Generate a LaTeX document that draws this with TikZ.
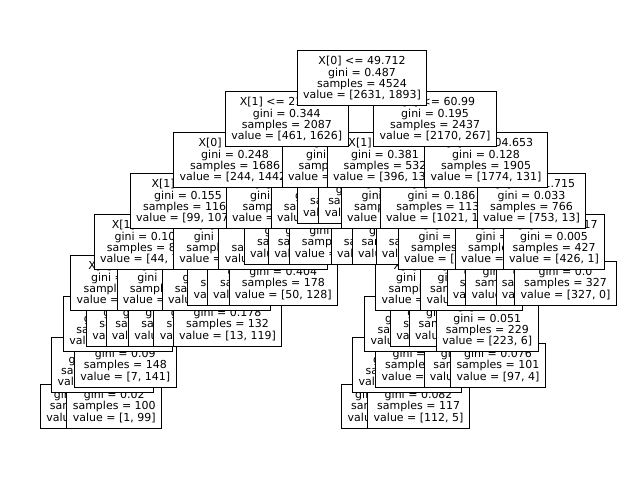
\documentclass[tikz,border=0pt]{standalone}
\usepackage{fontspec}
\setmainfont{DejaVu Sans}
\pgfdeclarelayer{bg}
\pgfsetlayers{bg,main}

\begin{document}
\begin{tikzpicture}[
    x=0.75pt, y=-0.75pt,
    split/.style={rectangle, draw, fill=white, line width=0.8pt, anchor=west, align=center,
        inner xsep=4.4pt, inner ysep=0pt, minimum height=41.25pt,
        font=\fontsize{8.25}{8.55}\selectfont},
    leaf/.style={split, minimum height=32.7pt},
    link/.style={draw, line width=0.8pt}
]
    \useasboundingbox (0,0) rectangle (640,480);

    % depth 8
    \node[leaf] (d8a) at (40,406.3) {gini = 0.346\\samples = 27\\value = [6, 21]};
    \node[leaf] (d8b) at (66.4,406.3) {gini = 0.02\\samples = 100\\value = [1, 99]};
    \node[leaf] (d8c) at (341.3,406.3) {gini = 0.428\\samples = 29\\value = [20, 9]};
    \node[leaf] (d8d) at (367.3,406.3) {gini = 0.082\\samples = 117\\value = [112, 5]};

    % depth 7
    \node[split] (d7a) at (51.3,365.3) {X[1] <= 8.5\\gini = 0.104\\samples = 127\\value = [7, 120]};
    \node[leaf] (d7b) at (74,365.3) {gini = 0.09\\samples = 148\\value = [7, 141]};
    \node[split] (d7c) at (352.2,365.3) {X[0] <= 55.5\\gini = 0.173\\samples = 146\\value = [132, 14]};
    \node[leaf] (d7d) at (375.2,365.3) {gini = 0.034\\samples = 171\\value = [168, 3]};
    \node[leaf] (d7e) at (423.5,365.3) {gini = 0.031\\samples = 128\\value = [126, 2]};
    \node[leaf] (d7f) at (450.1,365.3) {gini = 0.076\\samples = 101\\value = [97, 4]};

    % depth 6
    \node[split] (d6a) at (63,324.3) {X[0] <= 21.5\\gini = 0.097\\samples = 275\\value = [14, 261]};
    \node[leaf] (d6b) at (86,324.3) {gini = 0.355\\samples = 52\\value = [12, 40]};
    \node[leaf] (d6c) at (105.5,324.3) {gini = 0.015\\samples = 392\\value = [3, 389]};
    \node[leaf] (d6d) at (128,324.3) {gini = 0.271\\samples = 93\\value = [15, 78]};
    \node[leaf] (d6e) at (153.4,324.3) {gini = 0.454\\samples = 63\\value = [22, 41]};
    \node[leaf] (d6f) at (172.7,324.3) {gini = 0.178\\samples = 132\\value = [13, 119]};
    \node[split] (d6g) at (364.2,324.3) {X[1] <= 30.5\\gini = 0.101\\samples = 317\\value = [300, 17]};
    \node[leaf] (d6h) at (390,324.3) {gini = 0.404\\samples = 57\\value = [41, 16]};
    \node[leaf] (d6i) at (408.8,324.3) {gini = 0.022\\samples = 182\\value = [180, 2]};
    \node[split] (d6j) at (436,324.3) {X[0] <= 52.5\\gini = 0.051\\samples = 229\\value = [223, 6]};

    % depth 5
    \node[split] (d5a) at (70.2,283.3) {X[1] <= 12.5\\gini = 0.146\\samples = 327\\value = [26, 301]};
    \node[split] (d5b) at (116.5,283.3) {X[0] <= 15.5\\gini = 0.071\\samples = 485\\value = [18, 467]};
    \node[split] (d5c) at (161.6,283.3) {X[0] <= 40.5\\gini = 0.295\\samples = 195\\value = [35, 160]};
    \node[leaf] (d5d) at (187.3,283.3) {gini = 0.216\\samples = 162\\value = [20, 142]};
    \node[leaf] (d5e) at (206.8,283.3) {gini = 0.396\\samples = 140\\value = [38, 102]};
    \node[leaf] (d5f) at (228.5,283.3) {gini = 0.404\\samples = 178\\value = [50, 128]};
    \node[split] (d5g) at (375.3,283.3) {X[1] <= 18.5\\gini = 0.161\\samples = 374\\value = [341, 33]};
    \node[split] (d5h) at (420.2,283.3) {X[0] <= 58.5\\gini = 0.038\\samples = 411\\value = [403, 8]};
    \node[leaf] (d5i) at (446.5,283.3) {gini = 0.408\\samples = 35\\value = [25, 10]};
    \node[leaf] (d5j) at (465.2,283.3) {gini = 0.013\\samples = 304\\value = [302, 2]};
    \node[leaf] (d5k) at (495.5,283.3) {gini = 0.02\\samples = 100\\value = [99, 1]};
    \node[leaf] (d5l) at (514.2,283.3) {gini = 0.0\\samples = 327\\value = [327, 0]};

    % depth 4
    \node[split] (d4a) at (93.6,242.3) {X[1] <= 14.5\\gini = 0.103\\samples = 812\\value = [44, 768]};
    \node[split] (d4b) at (173,242.3) {X[0] <= 30.5\\gini = 0.261\\samples = 357\\value = [55, 302]};
    \node[split] (d4c) at (218.4,242.3) {X[1] <= 9.5\\gini = 0.4\\samples = 318\\value = [88, 230]};
    \node[leaf] (d4d) at (243.7,242.3) {gini = 0.409\\samples = 199\\value = [57, 142]};
    \node[leaf] (d4e) at (268,242.3) {gini = 0.138\\samples = 121\\value = [112, 9]};
    \node[leaf] (d4f) at (288.5,242.3) {gini = 0.47\\samples = 77\\value = [48, 29]};
    \node[leaf] (d4g) at (330.6,242.3) {gini = 0.122\\samples = 322\\value = [301, 21]};
    \node[leaf] (d4h) at (351.8,242.3) {gini = 0.479\\samples = 103\\value = [62, 41]};
    \node[leaf] (d4i) at (375.5,242.3) {gini = 0.34\\samples = 354\\value = [277, 77]};
    \node[split] (d4j) at (397.7,242.3) {X[1] <= 40.5\\gini = 0.099\\samples = 785\\value = [744, 41]};
    \node[split] (d4k) at (454.7,242.3) {X[0] <= 70.5\\gini = 0.068\\samples = 339\\value = [327, 12]};
    \node[split] (d4l) at (502.8,242.3) {X[0] <= 93.217\\gini = 0.005\\samples = 427\\value = [426, 1]};

    % depth 3
    \node[split] (d3a) at (129.8,201.3) {X[1] <= 20.5\\gini = 0.155\\samples = 1169\\value = [99, 1070]};
    \node[split] (d3b) at (225.7,201.3) {X[0] <= 38.5\\gini = 0.404\\samples = 517\\value = [145, 372]};
    \node[split] (d3c) at (270.6,201.3) {X[1] <= 6.5\\gini = 0.31\\samples = 198\\value = [160, 38]};
    \node[leaf] (d3d) at (296.7,201.3) {gini = 0.404\\samples = 203\\value = [57, 146]};
    \node[leaf] (d3e) at (318.4,201.3) {gini = 0.427\\samples = 107\\value = [33, 74]};
    \node[split] (d3f) at (340.8,201.3) {X[0] <= 45.5\\gini = 0.249\\samples = 425\\value = [363, 62]};
    \node[split] (d3g) at (379.6,201.3) {X[0] <= 75.5\\gini = 0.186\\samples = 1139\\value = [1021, 118]};
    \node[split] (d3h) at (476.7,201.3) {X[0] <= 81.715\\gini = 0.033\\samples = 766\\value = [753, 13]};

    % depth 2
    \node[split] (d2a) at (173.3,160.3) {X[0] <= 35.5\\gini = 0.248\\samples = 1686\\value = [244, 1442]};
    \node[split] (d2b) at (281.7,160.3) {X[1] <= 3.5\\gini = 0.497\\samples = 401\\value = [217, 184]};
    \node[split] (d2c) at (326.7,160.3) {X[1] <= 16.5\\gini = 0.381\\samples = 532\\value = [396, 136]};
    \node[split] (d2d) at (424.3,160.3) {X[1] <= 104.653\\gini = 0.128\\samples = 1905\\value = [1774, 131]};

    % depth 1
    \node[split] (d1a) at (225,119.3) {X[1] <= 215.825\\gini = 0.344\\samples = 2087\\value = [461, 1626]};
    \node[split] (d1b) at (373.3,119.3) {X[0] <= 60.99\\gini = 0.195\\samples = 2437\\value = [2170, 267]};

    % root
    \node[split] (d0) at (296.7,78.3) {X[0] <= 49.712\\gini = 0.487\\samples = 4524\\value = [2631, 1893]};

    \begin{pgfonlayer}{bg}
    \fill[white] (0,0) rectangle (640,480);
    \draw[link] (d0) edge (d1a) edge (d1b);
    \draw[link] (d1a) edge (d2a) edge (d2b);
    \draw[link] (d1b) edge (d2c) edge (d2d);
    \draw[link] (d2a) edge (d3a) edge (d3b);
    \draw[link] (d2b) edge (d3c) edge (d3d);
    \draw[link] (d2c) edge (d3e) edge (d3f);
    \draw[link] (d2d) edge (d3g) edge (d3h);
    \draw[link] (d3a) edge (d4a) edge (d4b);
    \draw[link] (d3b) edge (d4c) edge (d4d);
    \draw[link] (d3c) edge (d4e) edge (d4f);
    \draw[link] (d3f) edge (d4g) edge (d4h);
    \draw[link] (d3g) edge (d4i) edge (d4j);
    \draw[link] (d3h) edge (d4k) edge (d4l);
    \draw[link] (d4a) edge (d5a) edge (d5b);
    \draw[link] (d4b) edge (d5c) edge (d5d);
    \draw[link] (d4c) edge (d5e) edge (d5f);
    \draw[link] (d4j) edge (d5g) edge (d5h);
    \draw[link] (d4k) edge (d5i) edge (d5j);
    \draw[link] (d4l) edge (d5k) edge (d5l);
    \draw[link] (d5a) edge (d6a) edge (d6b);
    \draw[link] (d5b) edge (d6c) edge (d6d);
    \draw[link] (d5c) edge (d6e) edge (d6f);
    \draw[link] (d5g) edge (d6g) edge (d6h);
    \draw[link] (d5h) edge (d6i) edge (d6j);
    \draw[link] (d6a) edge (d7a) edge (d7b);
    \draw[link] (d6g) edge (d7c) edge (d7d);
    \draw[link] (d6j) edge (d7e) edge (d7f);
    \draw[link] (d7a) edge (d8a) edge (d8b);
    \draw[link] (d7c) edge (d8c) edge (d8d);
    \end{pgfonlayer}
\end{tikzpicture}
\end{document}
